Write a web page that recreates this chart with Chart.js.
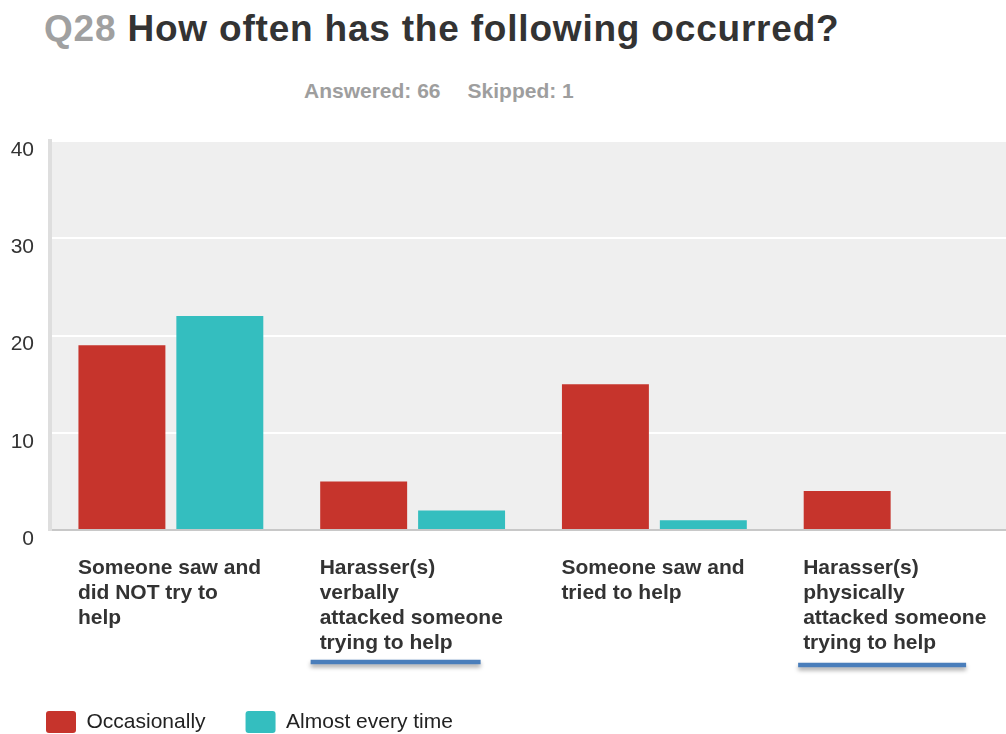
<!DOCTYPE html>
<html>
<head>
<meta charset="utf-8">
<title>Q28 How often has the following occurred?</title>
<script src="https://cdn.jsdelivr.net/npm/chart.js@4/dist/chart.umd.min.js"></script>
<style>
  html, body { margin: 0; padding: 0; background: #fff; overflow: hidden; width: 1006px; height: 734px; }
  #wrap { position: relative; width: 1006px; height: 734px; overflow: hidden; }
  #title {
    position: absolute; left: 44px; top: 10px; margin: 0;
    font: bold 37px/37px "Liberation Sans", Arial, Helvetica, sans-serif;
    letter-spacing: 0.8px; color: #333; white-space: nowrap;
  }
  #title .qnum { color: #a0a0a0; }
  #stats {
    position: absolute; left: 304px; top: 80px; margin: 0;
    font: bold 21px/21px "Liberation Sans", Arial, Helvetica, sans-serif;
    color: #9e9e9e; white-space: nowrap;
  }
  #stats span + span { margin-left: 27px; }
  #chart { position: absolute; left: 0; top: 0; }
</style>
</head>
<body>
<div id="wrap">
  <h1 id="title"><span class="qnum">Q28</span> How often has the following occurred?</h1>
  <div id="stats"><span>Answered: 66</span><span>Skipped: 1</span></div>
  <canvas id="chart" width="1020" height="752"></canvas>
</div>
<script>
// Answer options (one label line per array entry)
const categories = [
  ["Someone saw and", "did NOT try to", "help"],
  ["Harasser(s)", "verbally", "attacked someone", "trying to help"],
  ["Someone saw and", "tried to help"],
  ["Harasser(s)", "physically", "attacked someone", "trying to help"]
];

// Response counts per option
const seriesNames = ["Occasionally", "Almost every time"];
const occasionally = [19, 5, 15, 4];
const almostEveryTime = [22, 2, 1, 0];

// Value axis ticks
const yMin = 0;
const yMax = 40;
const yStep = 10;

// Hand-drawn underlines beneath selected option labels (category index)
const underlinedCategories = [1, 3];

const FONT = "'Liberation Sans', Arial, Helvetica, sans-serif";
Chart.defaults.font.family = FONT;

// Light grey plotting area behind the bars
const plotBackground = {
  id: 'plotBackground',
  beforeDraw(chart) {
    const { ctx, chartArea: a } = chart;
    ctx.save();
    ctx.fillStyle = '#efefef';
    ctx.fillRect(a.left, a.top, a.right - a.left, a.bottom - a.top);
    ctx.restore();
  }
};

// Blue emphasis strokes under the labels of the chosen categories
const labelUnderlines = {
  id: 'labelUnderlines',
  afterDraw(chart) {
    const { ctx } = chart;
    const x = chart.scales.x;
    const spans = { 1: [-102, 68, 662], 3: [-98, 70, 665] };
    ctx.save();
    ctx.strokeStyle = '#4a7ebb';
    ctx.lineWidth = 4.5;
    ctx.lineCap = 'butt';
    ctx.shadowColor = 'rgba(0,0,0,0.35)';
    ctx.shadowBlur = 4;
    ctx.shadowOffsetY = 3;
    underlinedCategories.forEach(i => {
      const c = x.getPixelForValue(i);
      const [d0, d1, y] = spans[i];
      ctx.beginPath();
      ctx.moveTo(c + d0, y);
      ctx.lineTo(c + d1, y);
      ctx.stroke();
    });
    ctx.restore();
  }
};

new Chart(document.getElementById('chart'), {
  type: 'bar',
  data: {
    labels: categories,
    datasets: [
      {
        label: seriesNames[0],
        data: occasionally,
        backgroundColor: '#c6342c',
        borderWidth: 0
      },
      {
        label: seriesNames[1],
        data: almostEveryTime,
        backgroundColor: '#34bebf',
        borderWidth: 0
      }
    ]
  },
  options: {
    responsive: false,
    animation: false,
    devicePixelRatio: 1,
    categoryPercentage: 0.81,
    barPercentage: 0.888,
    layout: { padding: { top: 141, left: 6, right: 3, bottom: 9 } },
    plugins: {
      title: { display: false },
      tooltip: { enabled: false },
      legend: {
        position: 'bottom',
        align: 'start',
        labels: {
          boxWidth: 30,
          boxHeight: 22,
          padding: 40,
          useBorderRadius: true,
          borderRadius: 3,
          color: '#222',
          font: { size: 21 }
        }
      }
    },
    scales: {
      x: {
        z: 1,
        grid: { display: false, drawTicks: false },
        border: { display: true, color: '#c8c8c8', width: 2 },
        ticks: {
          autoSkip: false,
          maxRotation: 0,
          minRotation: 0,
          align: 'start',
          labelOffset: -93,
          padding: 26,
          color: '#333',
          font: { size: 21, weight: 'bold', lineHeight: 1.19 }
        },
        afterFit(scale) {
          scale.paddingLeft = 0;
          scale.paddingRight = 0;
          scale.height = 141;
        }
      },
      y: {
        min: yMin,
        max: yMax,
        grid: { color: '#ffffff', lineWidth: 2, drawTicks: false },
        border: { display: true, color: '#dedede', width: 4 },
        ticks: {
          stepSize: yStep,
          padding: 16,
          labelOffset: 9,
          color: '#333',
          font: { size: 21 }
        },
        afterFit(scale) {
          scale.width = 44;
        }
      }
    }
  },
  plugins: [plotBackground, labelUnderlines]
});
</script>
</body>
</html>
